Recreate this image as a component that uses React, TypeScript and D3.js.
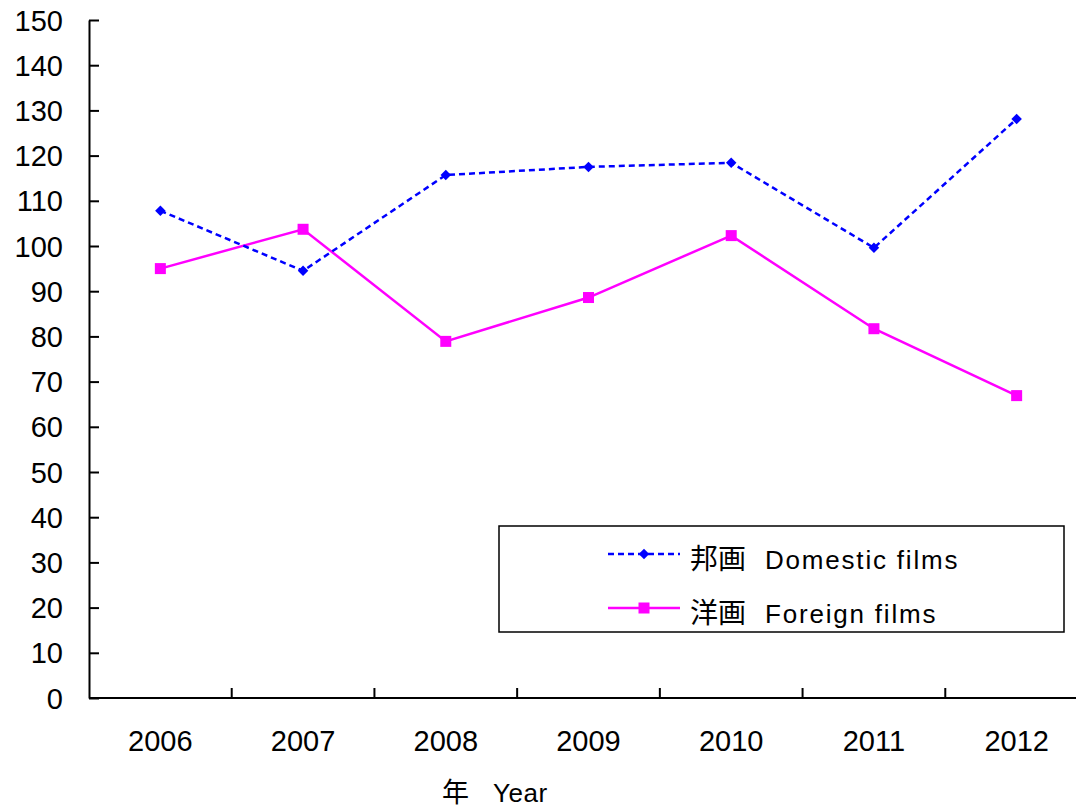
import React, { useEffect, useRef } from 'react'
import * as d3 from 'd3'

const years = ['2006', '2007', '2008', '2009', '2010', '2011', '2012']
const domesticFilms = [107.8, 94.5, 115.7, 117.5, 118.4, 99.6, 128.1]
const foreignFilms = [95.0, 103.7, 78.9, 88.6, 102.3, 81.7, 66.9]
const yTicks = [0, 10, 20, 30, 40, 50, 60, 70, 80, 90, 100, 110, 120, 130, 140, 150]
const domesticLabel = ['邦画', 'Domestic films']
const foreignLabel = ['洋画', 'Foreign films']
const xTitle = ['年', 'Year']

const numFont = '"Liberation Sans", Arial, sans-serif'
const jpFont = '"Noto Sans CJK JP", "Liberation Sans", sans-serif'

export default function App() {
  const svgRef = useRef(null)
  const width = 1076
  const height = 809
  const margin = { top: 20, left: 89, bottom: 111 }
  const plotW = 999
  const plotH = height - margin.top - margin.bottom

  useEffect(() => {
    const svgEl = d3.select(svgRef.current)
    svgEl.selectAll('*').remove()

    const x = d3.scaleBand().domain(years).range([0, plotW]).padding(0)
    const y = d3.scaleLinear().domain([0, 150]).range([plotH, 0])

    const svg = svgEl.append('g').attr('transform', `translate(${margin.left}, ${margin.top})`)

    // y axis, ticks point inward
    const yAxisGroup = svg.append('g').call(d3.axisLeft(y).tickValues(yTicks).tickSize(-10).tickSizeOuter(0).tickPadding(26))
    yAxisGroup.select('.domain').attr('stroke', '#000').attr('stroke-width', 2)
    yAxisGroup.selectAll('line').attr('stroke', '#000').attr('stroke-width', 2)
    yAxisGroup
      .selectAll('text')
      .attr('font-family', numFont)
      .attr('font-size', 29)
      .attr('fill', '#000')
      .attr('dy', '0.35em')

    // x axis with boundary ticks
    const xAxisGroup = svg.append('g').attr('transform', `translate(0, ${plotH})`)
    xAxisGroup
      .append('line')
      .attr('x1', 0)
      .attr('x2', plotW)
      .attr('y1', 0)
      .attr('y2', 0)
      .attr('stroke', '#000')
      .attr('stroke-width', 2)
    xAxisGroup
      .selectAll('.tick')
      .data(years.slice(1))
      .enter()
      .append('line')
      .attr('x1', (d) => x(d))
      .attr('x2', (d) => x(d))
      .attr('y1', 0)
      .attr('y2', -10)
      .attr('stroke', '#000')
      .attr('stroke-width', 2)
    xAxisGroup
      .selectAll('.lbl')
      .data(years)
      .enter()
      .append('text')
      .attr('x', (d) => x(d) + x.bandwidth() / 2)
      .attr('y', 53)
      .attr('text-anchor', 'middle')
      .attr('font-family', numFont)
      .attr('font-size', 29)
      .attr('fill', '#000')
      .text((d) => d)

    // x axis title
    const title = svgEl.append('text').attr('y', 802).attr('fill', '#000')
    title.append('tspan').attr('x', 442).attr('font-family', jpFont).attr('font-size', 27).text(xTitle[0])
    title
      .append('tspan')
      .attr('x', 493)
      .attr('font-family', numFont)
      .attr('font-size', 26)
      .attr('letter-spacing', 0.5)
      .text(xTitle[1])

    const cx = (i) => x(years[i]) + x.bandwidth() / 2
    const line = d3
      .line()
      .x((d, i) => cx(i))
      .y((d) => y(d))

    // foreign films
    svg
      .append('path')
      .datum(foreignFilms)
      .attr('fill', 'none')
      .attr('stroke', '#ff00ff')
      .attr('stroke-width', 2.5)
      .attr('d', line)
    svg
      .selectAll('.sq')
      .data(foreignFilms)
      .enter()
      .append('rect')
      .attr('x', (d, i) => cx(i) - 5.5)
      .attr('y', (d) => y(d) - 5.5)
      .attr('width', 11)
      .attr('height', 11)
      .attr('fill', '#ff00ff')

    // domestic films
    svg
      .append('path')
      .datum(domesticFilms)
      .attr('fill', 'none')
      .attr('stroke', '#0000ff')
      .attr('stroke-width', 2.5)
      .attr('stroke-dasharray', '6,4')
      .attr('d', line)
    const diamond = d3.symbol().type(d3.symbolDiamond2).size(70)
    svg
      .selectAll('.dm')
      .data(domesticFilms)
      .enter()
      .append('path')
      .attr('transform', (d, i) => `translate(${cx(i)}, ${y(d)})`)
      .attr('d', diamond)
      .attr('fill', '#0000ff')

    // legend
    const legend = svgEl.append('g').attr('transform', 'translate(499, 526)')
    legend
      .append('rect')
      .attr('width', 565)
      .attr('height', 106)
      .attr('fill', '#fff')
      .attr('stroke', '#000')
      .attr('stroke-width', 1.5)
    const items = [
      { label: domesticLabel, color: '#0000ff', dash: '6,4', shape: 'diamond', ly: 28 },
      { label: foreignLabel, color: '#ff00ff', dash: null, shape: 'square', ly: 82 },
    ]
    items.forEach((it) => {
      legend
        .append('line')
        .attr('x1', 109)
        .attr('x2', 181)
        .attr('y1', it.ly)
        .attr('y2', it.ly)
        .attr('stroke', it.color)
        .attr('stroke-width', 2.5)
        .attr('stroke-dasharray', it.dash)
      if (it.shape === 'diamond') {
        legend.append('path').attr('transform', `translate(145, ${it.ly})`).attr('d', diamond).attr('fill', it.color)
      } else {
        legend.append('rect').attr('x', 139.5).attr('y', it.ly - 5.5).attr('width', 11).attr('height', 11).attr('fill', it.color)
      }
      const t = legend.append('text').attr('y', it.ly + 15).attr('fill', '#000')
      t.append('tspan').attr('x', 191).attr('font-family', jpFont).attr('font-size', 28).text(it.label[0])
      t.append('tspan')
        .attr('x', 266)
        .attr('font-family', numFont)
        .attr('font-size', 26)
        .attr('letter-spacing', 1.8)
        .text(it.label[1])
    })
  }, [])

  return <svg ref={svgRef} width={width} height={height} style={{ position: 'absolute', left: 0, top: 0, background: '#fff' }} />
}
